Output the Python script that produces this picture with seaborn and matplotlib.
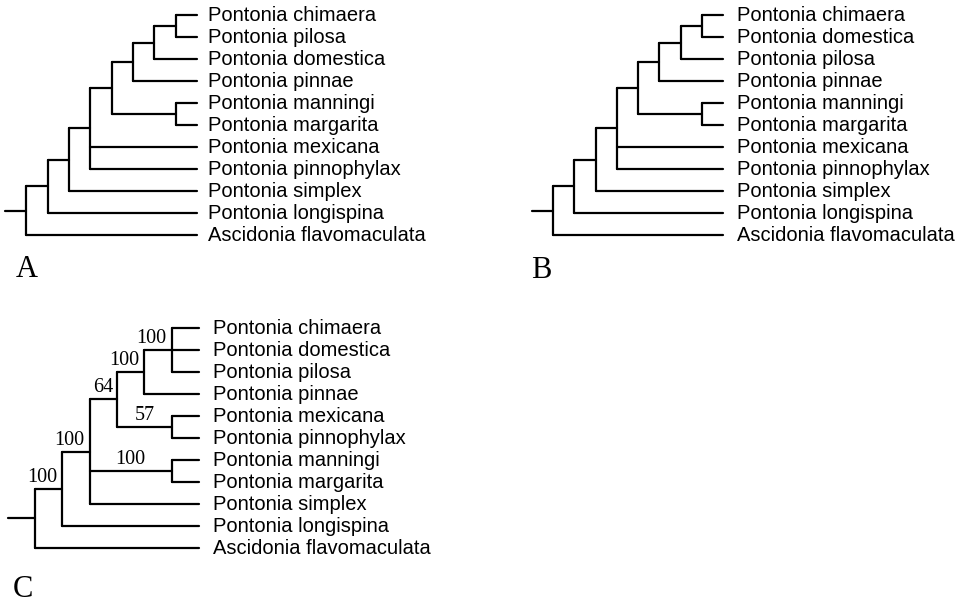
import matplotlib
matplotlib.use("Agg")
import matplotlib.pyplot as plt
import seaborn as sns
import pandas as pd

# topologies as nested tuples, leaves are taxon names
tree_a = ((((((((("Pontonia chimaera", "Pontonia pilosa"), "Pontonia domestica"), "Pontonia pinnae"),
              ("Pontonia manningi", "Pontonia margarita")),
             "Pontonia mexicana", "Pontonia pinnophylax"),
            "Pontonia simplex"),
           "Pontonia longispina"),
          "Ascidonia flavomaculata"))

tree_b = ((((((((("Pontonia chimaera", "Pontonia domestica"), "Pontonia pilosa"), "Pontonia pinnae"),
              ("Pontonia manningi", "Pontonia margarita")),
             "Pontonia mexicana", "Pontonia pinnophylax"),
            "Pontonia simplex"),
           "Pontonia longispina"),
          "Ascidonia flavomaculata"))

tree_c = (((((("Pontonia chimaera", "Pontonia domestica", "Pontonia pilosa"), "Pontonia pinnae"),
            ("Pontonia mexicana", "Pontonia pinnophylax")),
           ("Pontonia manningi", "Pontonia margarita"),
           "Pontonia simplex"),
          "Pontonia longispina"),
         "Ascidonia flavomaculata")

# bootstrap support for tree C, clade given by its members
support_clades = [
    ["Pontonia chimaera", "Pontonia domestica", "Pontonia pilosa"],
    ["Pontonia chimaera", "Pontonia domestica", "Pontonia pilosa", "Pontonia pinnae"],
    ["Pontonia chimaera", "Pontonia domestica", "Pontonia pilosa", "Pontonia pinnae",
     "Pontonia mexicana", "Pontonia pinnophylax"],
    ["Pontonia mexicana", "Pontonia pinnophylax"],
    ["Pontonia manningi", "Pontonia margarita"],
    ["Pontonia chimaera", "Pontonia domestica", "Pontonia pilosa", "Pontonia pinnae",
     "Pontonia mexicana", "Pontonia pinnophylax", "Pontonia manningi", "Pontonia margarita",
     "Pontonia simplex"],
    ["Pontonia chimaera", "Pontonia domestica", "Pontonia pilosa", "Pontonia pinnae",
     "Pontonia mexicana", "Pontonia pinnophylax", "Pontonia manningi", "Pontonia margarita",
     "Pontonia simplex", "Pontonia longispina"],
]
support_values = [100, 100, 64, 57, 100, 100, 100]

W, H = 966, 605


def height(node):
    if isinstance(node, str):
        return 0
    return 1 + max(height(c) for c in node)


def layout(tree):
    """Cladogram layout: x = distance from root in levels, tips aligned."""
    total = height(tree)
    segs, tips, nodes = [], [], []

    def walk(node):
        if isinstance(node, str):
            y = len(tips)
            tips.append((node, total, y))
            return total, y, [node]
        kids = [walk(c) for c in node]
        x = total - height(node)
        y = (kids[0][1] + kids[-1][1]) / 2
        segs.append([(x, kids[0][1]), (x, kids[-1][1])])
        members = []
        for cx, cy, cm in kids:
            segs.append([(x, cy), (cx, cy)])
            members += cm
        nodes.append((frozenset(members), x, y))
        return x, y, members

    rx, ry, _ = walk(tree)
    segs.append([(rx - 1, ry), (rx, ry)])  # root stub
    rows = [(i, px, py) for i, s in enumerate(segs) for px, py in s]
    df = pd.DataFrame(rows, columns=["seg", "x", "y"])
    return df, tips, nodes, total


def draw_tree(fig, tree, box, label_gap, supports=None):
    # box: pixel positions of (stub start, tips, first leaf row, last leaf row)
    x0, x1, y0, y1 = box
    df, tips, nodes, total = layout(tree)
    ax = fig.add_axes([x0 / W, 1 - y1 / H, (x1 - x0) / W, (y1 - y0) / H])
    sns.lineplot(data=df, x="x", y="y", units="seg", estimator=None, sort=False,
                 color="black", lw=1.6, ax=ax, clip_on=False)
    ax.set_xlim(-1, total)
    ax.set_ylim(len(tips) - 1, 0)
    ax.axis("off")
    for name, x, y in tips:
        ax.annotate(name, (x, y), xytext=(label_gap, -0.5), textcoords="offset points",
                    ha="left", va="center", fontsize=14.5, color="black",
                    family="Liberation Sans")
    if supports:
        for members, x, y in nodes:
            if members not in supports:
                continue
            # parent is the smallest enclosing clade
            px = max(nx for m, nx, ny in nodes if members < m)
            txt = str(supports[members])
            cx = min((px + x) / 2, x - 0.25 * len(txt))
            ax.annotate(txt, (cx, y), xytext=(0, 1.5), textcoords="offset points",
                        ha="center", va="bottom", fontsize=14.5, color="black",
                        family="Liberation Serif")
    return ax


sns.set_theme(style="white")
plt.rcParams["font.family"] = ["Liberation Sans", "DejaVu Sans"]
plt.rcParams["text.color"] = "black"

fig = plt.figure(figsize=(W / 100, H / 100), dpi=100)
fig.patch.set_facecolor("white")

draw_tree(fig, tree_a, (5, 197, 15, 235), 8)
draw_tree(fig, tree_b, (532, 723, 15, 235), 10)
sup = {frozenset(c): v for c, v in zip(support_clades, support_values)}
draw_tree(fig, tree_c, (7.7, 199, 328, 548), 10, supports=sup)

for letter, lx, ly in [("A", 16, 277), ("B", 531, 278), ("C", 13, 597)]:
    fig.text(lx / W, 1 - ly / H, letter, ha="left", va="baseline",
             fontsize=22, color="black", family="Liberation Serif")

fig.savefig("out.png", dpi=100)
